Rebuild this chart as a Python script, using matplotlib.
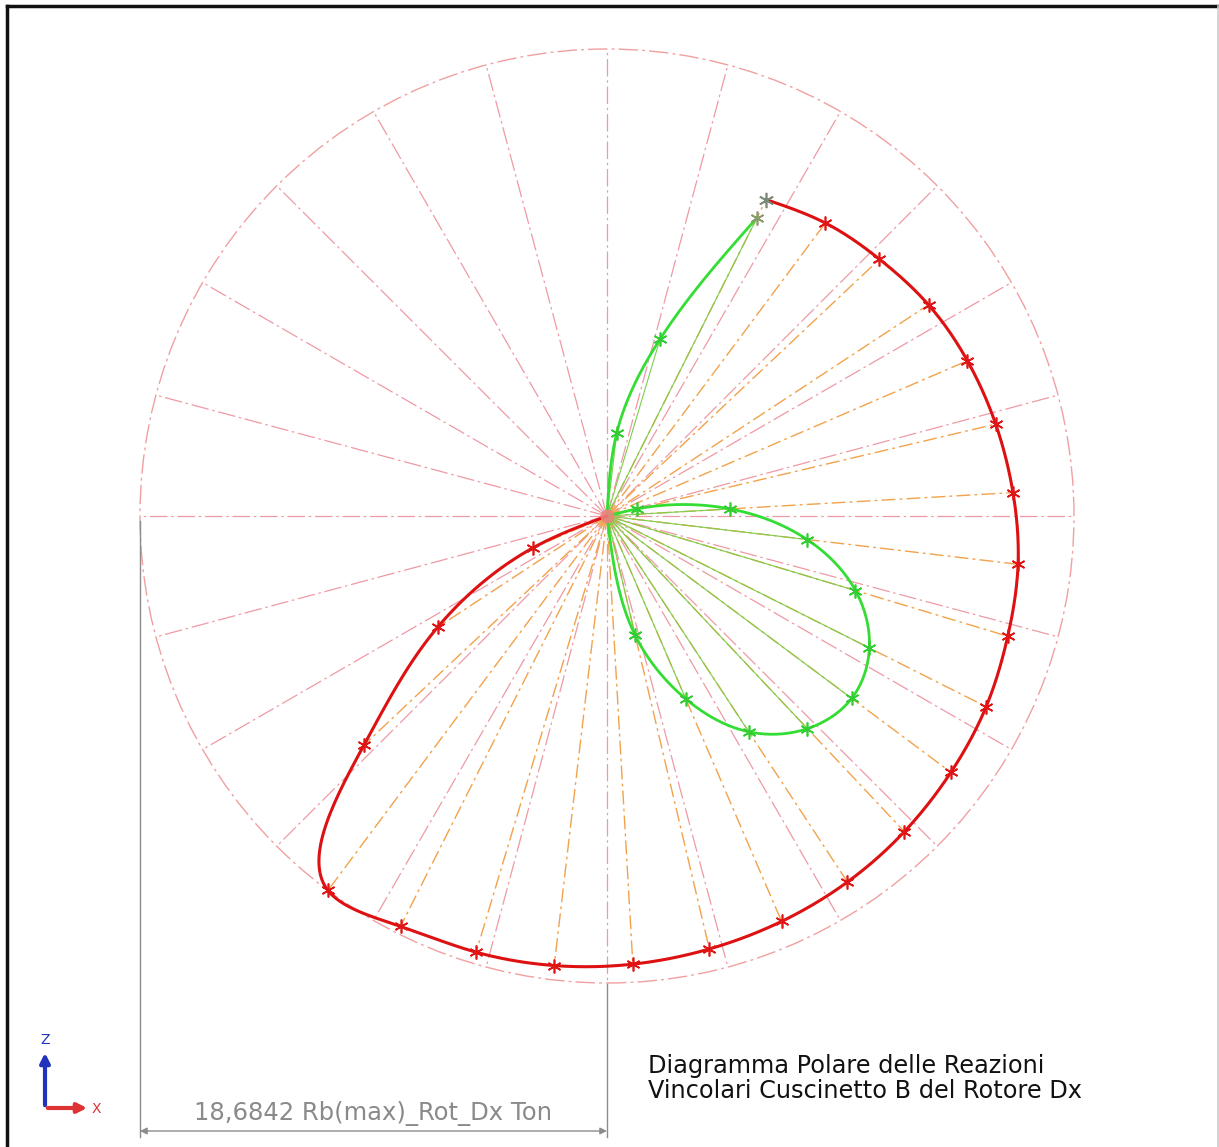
import numpy as np
import matplotlib
matplotlib.use("Agg")
import matplotlib.pyplot as plt
from matplotlib.patches import Circle, FancyArrowPatch

# ---- data (angles in degrees, reactions in Ton) ----
R_MAX = 18.6842

grid_angles = np.arange(0, 360, 15)

red_angle = [63.3, 53.3, 43.3, 33.3, 23.3, 13.3, 3.3, -6.7, -16.7, -26.7,
             -36.7, -46.7, -56.7, -66.7, -76.7, -86.7, -96.7, -106.7, -116.7,
             -126.7, -136.7, -146.7, -156.7, -166.7]
red_ton = [14.17, 14.62, 14.98, 15.39, 15.70, 15.98, 16.27, 16.56, 16.74, 16.98,
           17.16, 17.35, 17.52, 17.66, 17.80, 17.96, 18.11, 18.22, 18.38,
           18.6842, 13.36, 8.11, 3.24, 0.0]

green_up_angle = [93.3, 83.3, 73.3, 63.3]
green_up_ton = [0.0, 3.35, 7.39, 13.36]

green_lo_angle = [23.3, 13.3, 3.3, -6.7, -16.7, -26.7, -36.7, -46.7, -56.7,
                  -66.7, -76.7, -86.7]
green_lo_ton = [0.0, 1.24, 4.93, 8.06, 10.38, 11.75, 12.21, 11.69, 10.33,
                7.97, 4.91, 0.0]

dim_label = "18,6842 Rb(max)_Rot_Dx Ton"
title_lines = ["Diagramma Polare delle Reazioni",
               "Vincolari Cuscinetto B del Rotore Dx"]

# ---- helpers ----
def to_xy(ang, mag):
    a = np.radians(np.asarray(ang, float))
    m = np.asarray(mag, float)
    return m * np.cos(a), m * np.sin(a)


def natural_spline(x, y, n=30):
    """Chord-length parameterised natural cubic spline through the points."""
    pts = np.column_stack([x, y])
    h = np.hypot(*np.diff(pts, axis=0).T)
    t = np.concatenate([[0.0], np.cumsum(h)])
    k = len(t)
    out = []
    for c in (pts[:, 0], pts[:, 1]):
        A = np.zeros((k, k))
        b = np.zeros(k)
        A[0, 0] = A[-1, -1] = 1.0
        for i in range(1, k - 1):
            A[i, i - 1] = h[i - 1]
            A[i, i] = 2 * (h[i - 1] + h[i])
            A[i, i + 1] = h[i]
            b[i] = 6 * ((c[i + 1] - c[i]) / h[i] - (c[i] - c[i - 1]) / h[i - 1])
        M = np.linalg.solve(A, b)
        seg = []
        for i in range(k - 1):
            tt = np.linspace(t[i], t[i + 1], n, endpoint=(i == k - 2))
            hi = h[i]
            s = (M[i] * (t[i + 1] - tt) ** 3 / (6 * hi)
                 + M[i + 1] * (tt - t[i]) ** 3 / (6 * hi)
                 + (c[i] / hi - M[i] * hi / 6) * (t[i + 1] - tt)
                 + (c[i + 1] / hi - M[i + 1] * hi / 6) * (tt - t[i]))
            seg.append(s)
        out.append(np.concatenate(seg))
    return out[0], out[1]


# ---- figure: 1219 x 1147 px, sheet scale 467 px per R_MAX ----
W, H = 1219, 1147
CX, CY = 607, 516
scale = R_MAX / 467.0
fig = plt.figure(figsize=(W / 100, H / 100), dpi=100)
ax = fig.add_axes([0, 0, 1, 1])
ax.set_xlim(-CX * scale, (W - CX) * scale)
ax.set_ylim(-(H - CY) * scale, CY * scale)
ax.axis("off")

grid_col = "#ee9aa4"
ray_col = "#f2a24a"
dash_dot = (0, (14, 3, 2, 3))

# polar grid
ax.add_patch(Circle((0, 0), R_MAX, fill=False, ec="#f0a0a0", lw=1.0,
                    ls=dash_dot, zorder=1))
for g in grid_angles:
    gx, gy = to_xy([g], [R_MAX])
    ax.plot([0, gx[0]], [0, gy[0]], color=grid_col, lw=0.9, ls=dash_dot, zorder=1)

# rays to the red points
rx, ry = to_xy(red_angle, red_ton)
for x, y, m in zip(rx, ry, red_ton):
    if m > 0:
        ax.plot([0, x], [0, y], color=ray_col, lw=1.0, ls=(0, (10, 3, 2, 3)), zorder=2)

# rays to the green points
gux, guy = to_xy(green_up_angle, green_up_ton)
glx, gly = to_xy(green_lo_angle, green_lo_ton)
for xs, ys, ms in ((gux, guy, green_up_ton), (glx, gly, green_lo_ton)):
    for x, y, m in zip(xs, ys, ms):
        if m > 0:
            ax.plot([0, x], [0, y], color="#7ccf4c", lw=0.8, zorder=3)

# curves
sx, sy = natural_spline(rx, ry)
ax.plot(sx, sy, color="#dd1111", lw=2.2, zorder=5, solid_capstyle="round")
for xs, ys in ((gux, guy), (glx, gly)):
    cx_, cy_ = natural_spline(xs, ys)
    ax.plot(cx_, cy_, color="#33dd33", lw=2.0, zorder=4, solid_capstyle="round")

star = (6, 2, 0)
mask = np.asarray(red_ton) > 0
ax.plot(rx[mask][1:], ry[mask][1:], ls="none", marker=star, ms=10, mew=1.2,
        color="#e01515", zorder=6)
ax.plot(rx[:1], ry[:1], ls="none", marker=star, ms=11, mew=1.2,
        color="#7a8a7a", zorder=6)
gm_up = np.asarray(green_up_ton) > 0
gm_lo = np.asarray(green_lo_ton) > 0
ax.plot(gux[gm_up][:-1], guy[gm_up][:-1], ls="none", marker=star, ms=10, mew=1.2,
        color="#33cc33", zorder=6)
ax.plot(gux[-1:], guy[-1:], ls="none", marker=star, ms=10, mew=1.2,
        color="#8a9a6a", zorder=6)
ax.plot(glx[gm_lo], gly[gm_lo], ls="none", marker=star, ms=10, mew=1.2,
        color="#33cc33", zorder=6)
ax.plot([0], [0], ls="none", marker="o", ms=9, color="#f08080", alpha=0.85, zorder=7)

# dimension of the maximum reaction
dim_col = "#8c8c8c"
y_dim = -(1131 - CY) * scale
y_low = -(1137 - CY) * scale
ax.plot([-R_MAX, -R_MAX], [-0.2, y_low], color=dim_col, lw=1.0, zorder=1)
ax.plot([0, 0], [-R_MAX - 0.05, y_low], color=dim_col, lw=1.0, zorder=1)
ax.annotate("", xy=(-R_MAX, y_dim), xytext=(0, y_dim),
            arrowprops=dict(arrowstyle="<|-|>", color=dim_col, lw=1.0,
                            mutation_scale=10, shrinkA=0, shrinkB=0))
ax.text(-R_MAX / 2, y_dim + 0.2, dim_label, ha="center", va="bottom",
        fontsize=17.5, color="#8a8a8a", family="DejaVu Sans")

# title block
fig.text(648 / W, 1 - 1066 / H, title_lines[0], ha="left", va="center",
         fontsize=17.3, color="#111111", family="DejaVu Sans")
fig.text(648 / W, 1 - 1091 / H, title_lines[1], ha="left", va="center",
         fontsize=17.3, color="#111111", family="DejaVu Sans")

# axis triad
fig.add_artist(FancyArrowPatch(
    (45 / W, 1 - 1108 / H), (45 / W, 1 - 1050 / H), transform=fig.transFigure,
    arrowstyle="-|>", mutation_scale=14, color="#2233bb", lw=3))
fig.add_artist(FancyArrowPatch(
    (45 / W, 1 - 1108 / H), (90 / W, 1 - 1108 / H), transform=fig.transFigure,
    arrowstyle="-|>", mutation_scale=14, color="#dd3333", lw=3))
fig.text(45 / W, 1 - 1040 / H, "Z", ha="center", va="center", fontsize=10,
         color="#2233bb")
fig.text(96 / W, 1 - 1109 / H, "X", ha="center", va="center", fontsize=10,
         color="#dd3333")

# sheet border
fig.add_artist(plt.Line2D([7 / W, 7 / W], [0, 1 - 6 / H], transform=fig.transFigure,
                          color="#111111", lw=2.5))
fig.add_artist(plt.Line2D([7 / W, 1], [1 - 6 / H, 1 - 6 / H], transform=fig.transFigure,
                          color="#111111", lw=2.5))
fig.add_artist(plt.Line2D([1217.5 / W, 1217.5 / W], [0, 1 - 6 / H],
                          transform=fig.transFigure, color="#cccccc", lw=1.2))

fig.savefig("out.png", dpi=100, facecolor="white")
